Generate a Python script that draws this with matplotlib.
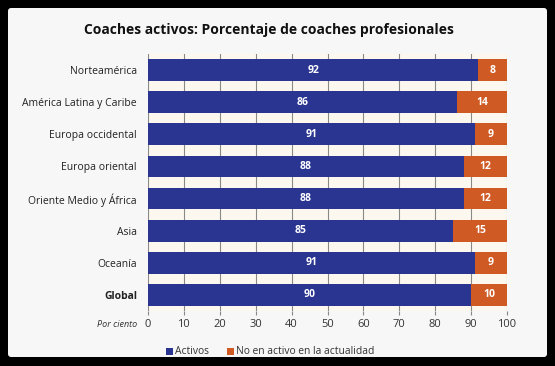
import matplotlib.pyplot as plt
from matplotlib.patches import FancyBboxPatch, Rectangle
import numpy as np

plt.rcParams['font.family'] = ['Open Sans', 'DejaVu Sans']

# datos
regiones = ['Norteamérica', 'América Latina y Caribe', 'Europa occidental',
            'Europa oriental', 'Oriente Medio y África', 'Asia', 'Oceanía', 'Global']
activos = [92, 86, 91, 88, 88, 85, 91, 90]
no_activos = [8, 14, 9, 12, 12, 15, 9, 10]
ticks_x = [0, 10, 20, 30, 40, 50, 60, 70, 80, 90, 100]

azul = '#2a3591'
naranja = '#d05a24'

fig = plt.figure(figsize=(5.55, 3.66), dpi=100, facecolor='black')

# panel gris claro de fondo
bg = fig.add_axes([0, 0, 1, 1], zorder=-1)
bg.set_xlim(0, 555)
bg.set_ylim(366, 0)
bg.axis('off')
bg.add_patch(FancyBboxPatch((8, 8), 539, 349, boxstyle='round,pad=0,rounding_size=3',
                            facecolor='#f7f7f7', edgecolor='none'))
bg.add_patch(Rectangle((166, 348), 7, 7, facecolor=azul, edgecolor='none'))
bg.add_patch(Rectangle((227, 348), 7, 7, facecolor=naranja, edgecolor='none'))
bg.text(175, 351, 'Activos', ha='left', va='center', fontsize=7.4, color='#333333')
bg.text(236, 351, 'No en activo en la actualidad', ha='left', va='center',
        fontsize=7.4, color='#333333')
bg.text(269, 30, 'Coaches activos: Porcentaje de coaches profesionales',
        ha='center', va='center', fontsize=10, fontweight='bold', color='#111111')

ax = fig.add_axes([148 / 555, 1 - 311 / 366, 359 / 555, 257 / 366])
ax.set_facecolor('#fdf8ef')

y = np.arange(len(regiones))
ax.barh(y, activos, height=0.68, color=azul, zorder=3)
ax.barh(y, no_activos, left=activos, height=0.68, color=naranja, zorder=3)

for i in range(len(regiones)):
    ax.text(activos[i] / 2, y[i], str(activos[i]), ha='center', va='center',
            color='white', fontsize=7.5, fontweight='bold', zorder=4)
    ax.text(activos[i] + no_activos[i] / 2, y[i], str(no_activos[i]),
            ha='center', va='center', color='white', fontsize=7.5,
            fontweight='bold', zorder=4)

ax.set_xlim(0, 100)
ax.set_ylim(len(regiones) - 0.5, -0.5)
ax.set_xticks(ticks_x)
ax.set_xticklabels([str(t) for t in ticks_x], fontsize=8, color='#333333')
ax.set_yticks(y)
ax.set_yticklabels(regiones, fontsize=7.5, color='#222222')
ax.get_yticklabels()[-1].set_fontweight('bold')
ax.tick_params(axis='y', length=0, pad=8)
ax.tick_params(axis='x', length=3, width=0.8, color='#888888', pad=3)

ax.grid(axis='x', color='#888888', linewidth=0.8, zorder=1)
for s in ax.spines.values():
    s.set_visible(False)

ax.annotate('Por ciento', xy=(0, 0), xycoords='axes fraction',
            xytext=(-8, -10), textcoords='offset points', ha='right',
            va='center', fontsize=6.5, style='italic', color='#333333')

fig.savefig('out.png', dpi=100, facecolor='black')
